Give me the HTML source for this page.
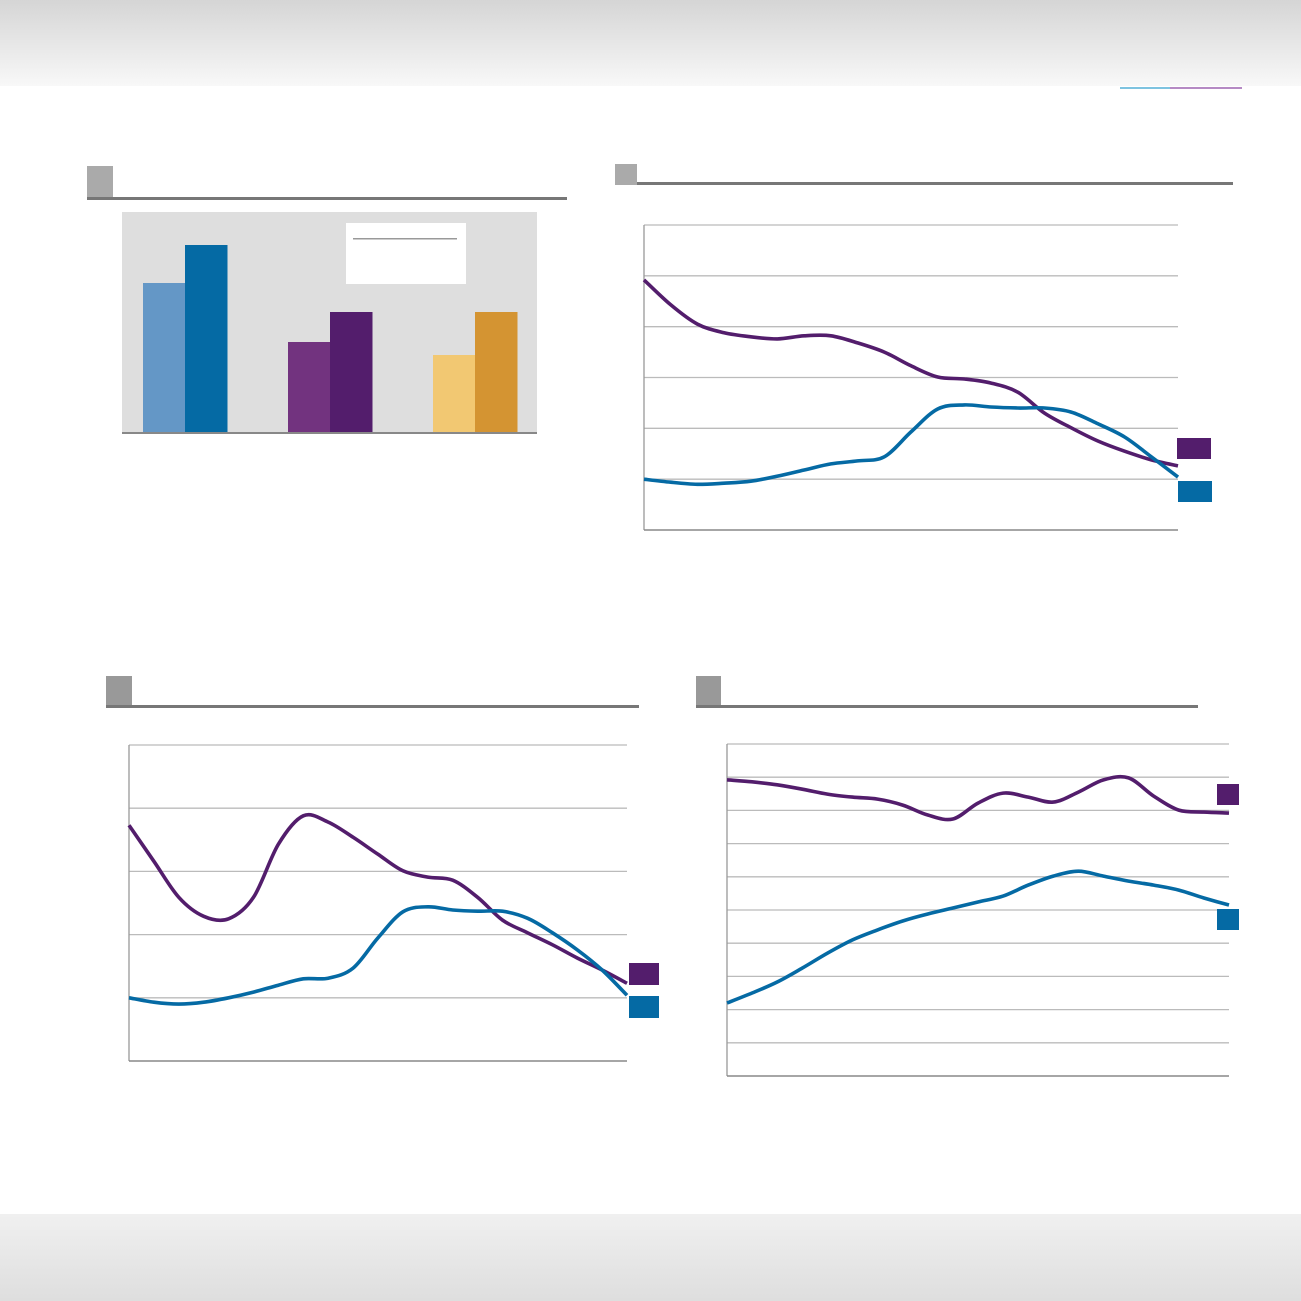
<!DOCTYPE html>
<html><head><meta charset="utf-8"><style>
html,body{margin:0;padding:0;background:#fff;width:1301px;height:1301px;overflow:hidden;font-family:"Liberation Sans",sans-serif}
svg{display:block}
</style></head><body>
<svg id="s" width="1301" height="1301" viewBox="0 0 1301 1301">
<defs>
<linearGradient id="tg" x1="0" y1="0" x2="0" y2="1"><stop offset="0" stop-color="#d5d5d5"/><stop offset="1" stop-color="#f8f8f8"/></linearGradient>
<linearGradient id="bg" x1="0" y1="0" x2="0" y2="1"><stop offset="0" stop-color="#f0f0f0"/><stop offset="1" stop-color="#dedede"/></linearGradient>
</defs>
<rect x="0" y="0" width="1301" height="86" fill="url(#tg)"/>
<rect x="1120" y="87" width="50" height="2" fill="#7ec3e0"/>
<rect x="1170" y="87" width="72" height="2" fill="#b58ac4"/>
<rect x="0" y="1214" width="1301" height="87" fill="url(#bg)"/>

<g>
<rect x="87" y="166" width="26" height="31" fill="#aaa"/><rect x="87" y="197" width="480" height="3" fill="#777"/></g>
<g>
<rect x="615" y="164" width="22" height="21" fill="#aaa"/><rect x="637" y="182" width="596" height="3" fill="#777"/></g>
<g>
<rect x="106" y="676" width="26" height="30" fill="#999"/><rect x="106" y="705" width="533" height="3" fill="#777"/></g>
<g>
<rect x="696" y="676" width="25" height="30" fill="#999"/><rect x="696" y="705" width="502" height="3" fill="#777"/></g>

<g id="barchart">
<rect x="122" y="212" width="415" height="221" fill="#dedede"/>
<g><rect x="346" y="223" width="120" height="61" fill="#fff"/><rect x="353" y="238" width="104" height="1.5" fill="#999"/></g>
</g>
<g id="lines"></g>
</svg>
<script>
// Bar chart data (heights in chart units)
const barCategories = ['group-1','group-2','group-3'];
const barSeriesA = [150, 91, 78];
const barSeriesB = [188, 121, 121];
const barColorsA = ['#6497c6','#72337f','#f2c872'];
const barColorsB = ['#056aa4','#531d6c','#d49432'];

// Line chart B (top right), gridline units 0..6
const chartBPurple = [4.92,4.43,4.05,3.88,3.80,3.76,3.82,3.82,3.68,3.50,3.23,3.01,2.97,2.89,2.71,2.30,2.01,1.75,1.55,1.38,1.26];
const chartBBlue = [1.0,0.94,0.90,0.92,0.96,1.06,1.18,1.30,1.36,1.44,1.93,2.38,2.46,2.42,2.40,2.40,2.32,2.09,1.83,1.44,1.04];
// Line chart C (bottom left), units 0..5
const chartCPurple = [3.73,3.16,2.59,2.29,2.25,2.59,3.43,3.88,3.78,3.54,3.27,3.01,2.91,2.86,2.59,2.23,2.03,1.84,1.63,1.44,1.23];
const chartCBlue = [1.0,0.93,0.90,0.93,1.0,1.09,1.20,1.30,1.31,1.47,1.95,2.36,2.44,2.39,2.37,2.37,2.26,2.03,1.76,1.44,1.04];
// Line chart D (bottom right), units 0..10
const chartDPurple = [8.92,8.86,8.77,8.64,8.49,8.40,8.34,8.16,7.86,7.74,8.22,8.52,8.40,8.25,8.55,8.92,8.98,8.43,8.01,7.95,7.92];
const chartDBlue = [2.20,2.50,2.83,3.25,3.70,4.10,4.40,4.67,4.88,5.06,5.24,5.42,5.75,6.02,6.17,6.02,5.87,5.75,5.60,5.36,5.15];

const NS='http://www.w3.org/2000/svg';
function mk(tag,attrs,parent){const e=document.createElementNS(NS,tag);for(const k in attrs)e.setAttribute(k,attrs[k]);parent.appendChild(e);return e;}

const bc=document.getElementById('barchart');
const barBase=433, barLeft=143, groupStep=145, barW=42;
barCategories.forEach((c,i)=>{
  const x=barLeft+i*groupStep;
  const a=mk('rect',{x:x,y:barBase-barSeriesA[i],width:barW,height:barSeriesA[i],fill:barColorsA[i]},bc);
  
  
  const b=mk('rect',{x:x+barW,y:barBase-barSeriesB[i],width:barW+0.5,height:barSeriesB[i],fill:barColorsB[i]},bc);
  
  
});
const bl=mk('rect',{x:122,y:432,width:415,height:2,fill:'#888'},bc);



function smooth(pts){
  let d='M'+pts[0][0]+','+pts[0][1];
  for(let i=0;i<pts.length-1;i++){
    const p0=pts[i-1]||pts[i],p1=pts[i],p2=pts[i+1],p3=pts[i+2]||p2;
    const c1x=p1[0]+(p2[0]-p0[0])/6,c1y=p1[1]+(p2[1]-p0[1])/6;
    const c2x=p2[0]-(p3[0]-p1[0])/6,c2y=p2[1]-(p3[1]-p1[1])/6;
    d+=' C'+c1x.toFixed(1)+','+c1y.toFixed(1)+' '+c2x.toFixed(1)+','+c2y.toFixed(1)+' '+p2[0].toFixed(1)+','+p2[1].toFixed(1);
  }
  return d;
}

function lineChart(name,x0,x1,yTop,yBot,n,series,legends){
  const g=mk('g',{},document.getElementById('lines'));
  
  
  const ys=v=>yBot-(yBot-yTop)*v/n;
  for(let k=1;k<=n;k++){
    const l=mk('line',{x1:x0,x2:x1,y1:ys(k),y2:ys(k),stroke:'#bbb','stroke-width':1.3},g);
    
    
  }
  const ax=mk('line',{x1:x0,x2:x0,y1:yTop,y2:yBot,stroke:'#999','stroke-width':1.3},g);
  
  
  const bx=mk('line',{x1:x0,x2:x1,y1:yBot,y2:yBot,stroke:'#888','stroke-width':1.5},g);
  
  
  series.forEach(s=>{
    const xs=i=>x0+(x1-x0)*i/(s.data.length-1);
    const pts=s.data.map((v,i)=>[xs(i),ys(v)]);
    const p=mk('path',{d:smooth(pts),fill:'none',stroke:s.color,'stroke-width':3.6,'stroke-linejoin':'round'},g);
    
    
  });
  legends.forEach(L=>{
    const r=mk('rect',{x:L[0],y:L[1],width:L[2],height:L[3],fill:L[4]},g);
    
    
  });
}
const P='#531d6c',B='#056aa4';
lineChart('chart-b',644,1178,225,530,6,[{key:'purple',data:chartBPurple,color:P},{key:'blue',data:chartBBlue,color:B}],
  [[1177,438,34,21,P],[1178,481,34,21,B]]);
lineChart('chart-c',129,627,745,1061,5,[{key:'purple',data:chartCPurple,color:P},{key:'blue',data:chartCBlue,color:B}],
  [[629,963,30,22,P],[629,996,30,22,B]]);
lineChart('chart-d',727,1229,744,1076,10,[{key:'purple',data:chartDPurple,color:P},{key:'blue',data:chartDBlue,color:B}],
  [[1217,784,22,21,P],[1217,909,22,21,B]]);
</script>
</body></html>
